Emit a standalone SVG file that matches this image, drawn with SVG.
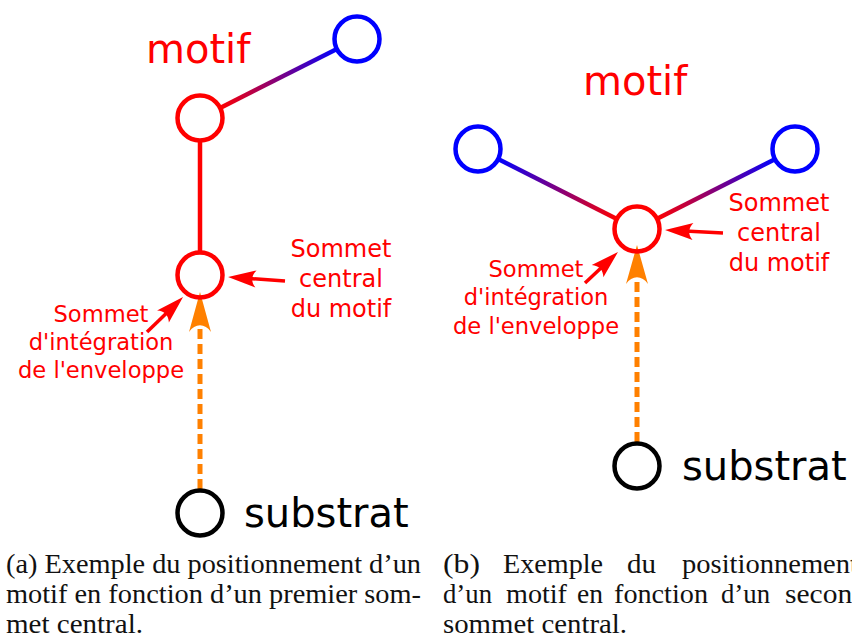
<svg xmlns="http://www.w3.org/2000/svg" width="852" height="639" viewBox="0 0 852 639">
<style>
.node{fill:none;stroke-width:4.5}
.red{stroke:#ff0000}
.blue{stroke:#0000ff}
.blk{stroke:#000000}
.big{font-family:"DejaVu Sans",sans-serif;font-size:40px}
.lbl{font-family:"DejaVu Sans",sans-serif;font-size:24px;fill:#ff0000;text-anchor:middle}
.lbl2{font-family:"DejaVu Sans",sans-serif;font-size:22.6px;fill:#ff0000;text-anchor:middle}
.cap{font-family:"Liberation Serif",serif;font-size:26.5px;fill:#111}
.edge{fill:none;stroke-width:4.5}
.rarrow{fill:none;stroke:#ff0000;stroke-width:3.5}
.dash{fill:none;stroke:#ff8000;stroke-width:5;stroke-dasharray:10,5}
.ohead{fill:#ff8000}
</style>
<defs>
<marker id="rhead" markerUnits="userSpaceOnUse" viewBox="-10 -10 32 20" markerWidth="32" markerHeight="20" refX="0" refY="0" orient="auto" overflow="visible">
<path d="M20,0 L-8,-8.5 C-3,-3 -3,3 -8,8.5 Z" fill="#ff0000"/>
</marker>
<linearGradient id="gA" gradientUnits="userSpaceOnUse" x1="220.1" y1="107.9" x2="336.9" y2="49.1">
<stop offset="0" stop-color="#ff0000"/><stop offset="1" stop-color="#0000ff"/>
</linearGradient>
<linearGradient id="gB" gradientUnits="userSpaceOnUse" x1="498.1" y1="159.1" x2="616.9" y2="218.9">
<stop offset="0" stop-color="#0000ff"/><stop offset="1" stop-color="#ff0000"/>
</linearGradient>
<linearGradient id="gC" gradientUnits="userSpaceOnUse" x1="657.1" y1="218.8" x2="774.9" y2="159.2">
<stop offset="0" stop-color="#ff0000"/><stop offset="1" stop-color="#0000ff"/>
</linearGradient>
</defs>

<g id="connectors">
<line class="edge" stroke="url(#gA)" x1="220.1" y1="107.9" x2="336.9" y2="49.1"/>
<line class="edge" stroke="#ff0000" x1="200" y1="140.5" x2="200" y2="252.5"/>
<line class="edge" stroke="url(#gB)" x1="498.1" y1="159.1" x2="616.9" y2="218.9"/>
<line class="edge" stroke="url(#gC)" x1="657.1" y1="218.8" x2="774.9" y2="159.2"/>
<line class="rarrow" x1="285" y1="281" x2="248" y2="278.4" marker-end="url(#rhead)"/>
<line class="rarrow" x1="147" y1="332" x2="168.7" y2="310.9" marker-end="url(#rhead)"/>
<line class="rarrow" x1="723" y1="233" x2="685" y2="231" marker-end="url(#rhead)"/>
<line class="rarrow" x1="585" y1="283" x2="603.4" y2="265.7" marker-end="url(#rhead)"/>
<line class="dash" x1="200" y1="489" x2="200" y2="324"/>
<path class="ohead" d="M200,292 L211,332 C205,323 195,323 189,332 Z"/>
<line class="dash" x1="637" y1="442" x2="637" y2="277"/>
<path class="ohead" d="M637,245 L648,284 C642,275 632,275 626,284 Z"/>
</g>

<g id="left-motif-label"><text class="big" x="146" y="63" fill="#ff0000">motif</text></g>
<g id="left-blue-node"><circle class="node blue" cx="357" cy="39" r="22.5"/></g>
<g id="left-red-node"><circle class="node red" cx="200" cy="118" r="22.5"/></g>
<g id="left-central-node"><circle class="node red" cx="200" cy="275" r="22.5"/></g>
<g id="left-substrat"><circle class="node blk" cx="200" cy="513" r="22.5"/>
<text class="big" x="244" y="527" fill="#000000">substrat</text></g>
<g id="left-central-label">
<text class="lbl" x="341" y="257">Sommet</text>
<text class="lbl" x="341" y="287">central</text>
<text class="lbl" x="341" y="317">du motif</text>
</g>
<g id="left-integration-label">
<text class="lbl2" x="101" y="322">Sommet</text>
<text class="lbl2" x="101" y="350">d'intégration</text>
<text class="lbl2" x="101" y="378">de l'enveloppe</text>
</g>

<g id="right-motif-label"><text class="big" x="583" y="95" fill="#ff0000">motif</text></g>
<g id="right-blue-left"><circle class="node blue" cx="478" cy="149" r="22.5"/></g>
<g id="right-blue-right"><circle class="node blue" cx="795" cy="149" r="22.5"/></g>
<g id="right-central-node"><circle class="node red" cx="637" cy="229" r="22.5"/></g>
<g id="right-substrat"><circle class="node blk" cx="637" cy="466" r="22.5"/>
<text class="big" x="682" y="480" fill="#000000">substrat</text></g>
<g id="right-central-label">
<text class="lbl" x="779" y="211">Sommet</text>
<text class="lbl" x="779" y="241">central</text>
<text class="lbl" x="779" y="271">du motif</text>
</g>
<g id="right-integration-label">
<text class="lbl2" x="536" y="277">Sommet</text>
<text class="lbl2" x="536" y="305">d'intégration</text>
<text class="lbl2" x="536" y="334">de l'enveloppe</text>
</g>

<g id="caption-a">
<text class="cap" x="6" y="573" textLength="415" lengthAdjust="spacingAndGlyphs">(a) Exemple du positionnement d’un</text>
<text class="cap" x="6" y="603" textLength="415" lengthAdjust="spacingAndGlyphs">motif en fonction d’un premier som-</text>
<text class="cap" x="6" y="633" textLength="137" lengthAdjust="spacingAndGlyphs">met central.</text>
</g>
<g id="caption-b">
<text class="cap" x="443" y="573" textLength="37" lengthAdjust="spacingAndGlyphs">(b)</text>
<text class="cap" x="503" y="573" textLength="100" lengthAdjust="spacingAndGlyphs">Exemple</text>
<text class="cap" x="627" y="573" textLength="29" lengthAdjust="spacingAndGlyphs">du</text>
<text class="cap" x="682" y="573" textLength="176" lengthAdjust="spacingAndGlyphs">positionnement</text>
<text class="cap" x="443" y="603" textLength="49" lengthAdjust="spacingAndGlyphs">d’un</text>
<text class="cap" x="506" y="603" textLength="61" lengthAdjust="spacingAndGlyphs">motif</text>
<text class="cap" x="577" y="603" textLength="26" lengthAdjust="spacingAndGlyphs">en</text>
<text class="cap" x="614" y="603" textLength="94" lengthAdjust="spacingAndGlyphs">fonction</text>
<text class="cap" x="721" y="603" textLength="49" lengthAdjust="spacingAndGlyphs">d’un</text>
<text class="cap" x="785" y="603" textLength="82" lengthAdjust="spacingAndGlyphs">second</text>
<text class="cap" x="443" y="633" textLength="184" lengthAdjust="spacingAndGlyphs">sommet central.</text>
</g>
</svg>
